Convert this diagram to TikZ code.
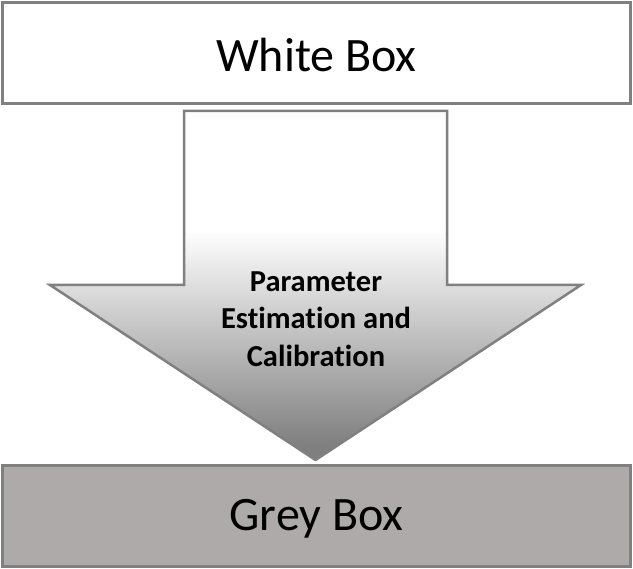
\documentclass[tikz,border=0pt]{standalone}
\usepackage{fontspec}
\setmainfont{Carlito}[RawFeature=-liga]
\definecolor{edgegrey}{HTML}{808080}
\definecolor{boxgrey}{HTML}{AEAAA9}
\definecolor{shadegrey}{HTML}{7F7F7F}
% vertical shading: 25bp..75bp spans the arrow from tip (bottom) to shaft top
\pgfdeclareverticalshading{arrowshade}{100bp}{%
  color(0bp)=(shadegrey); color(27bp)=(shadegrey);
  color(58bp)=(white); color(100bp)=(white)}
\begin{document}
\begin{tikzpicture}[x=1pt,y=-1pt,
  boxstyle/.style={draw=edgegrey,line width=3.8pt},
  boxlabel/.style={font=\fontsize{48}{56}\selectfont},
  arrowlabel/.style={font=\bfseries\fontsize{30.5}{37.5}\selectfont,align=center}]
\useasboundingbox (0,0) rectangle (633,569);
% top and bottom boxes
\draw[boxstyle,fill=white] (2.5,2.5) rectangle (630.5,103.5);
\draw[boxstyle,fill=boxgrey] (2.5,465.5) rectangle (630.5,566.5);
\node[boxlabel] (white) at (316.5,55) {White Box};
\node[boxlabel] (grey) at (316.5,519) {Grey Box};
% downward block arrow
\draw[draw=edgegrey,line width=2.5pt,line join=miter,shading=arrowshade]
  (184,111) -- (447,111) -- (447,285) -- (581,285) -- (315.5,460)
  -- (50,285) -- (184,285) -- cycle;
\node[arrowlabel] (step) at (316,319) {Parameter\\Estimation and\\Calibration};
\end{tikzpicture}
\end{document}
